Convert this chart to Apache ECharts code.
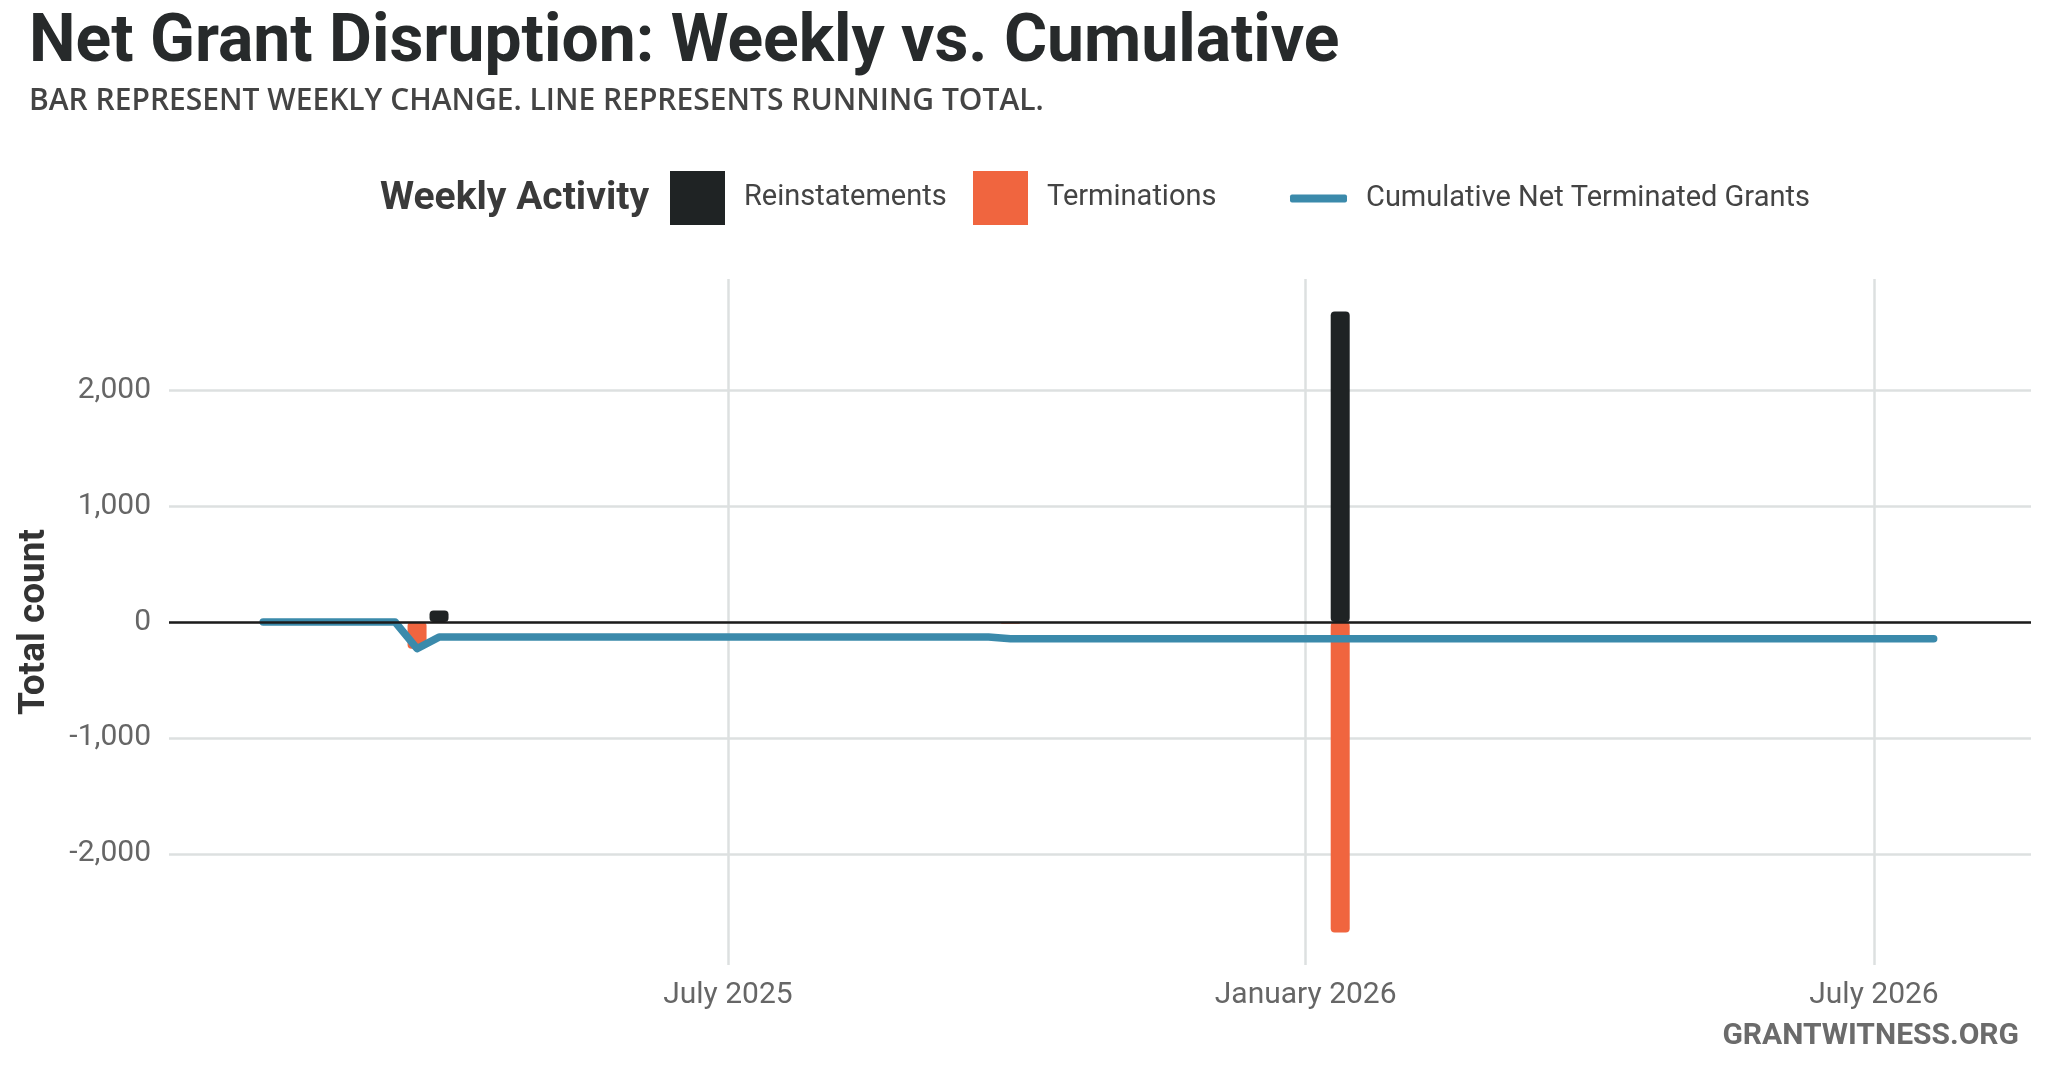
<!DOCTYPE html>
<html><head><meta charset="utf-8">
<script src="https://cdn.jsdelivr.net/npm/echarts@6/dist/echarts.min.js"></script>
<style>html,body{margin:0;padding:0;background:#fff}#c{width:2048px;height:1070px}</style>
</head><body><div id="c"></div>
<script>
// ---- data ----
const barWeeks = ['2025-03-24', '2025-03-31', '2025-09-29', '2026-01-12'];
const reinstatements = [null, 100, null, 2680];
const terminations = [-230, null, -15, -2680];
const lineWeeks = ['2025-02-03', '2025-03-17', '2025-03-24', '2025-03-31', '2025-09-22', '2025-09-29', '2026-07-20'];
const cumulativeNet = [0, 0, -230, -130, -130, -145, -145];
const xTickDates = ['2025-07-01', '2026-01-01', '2026-07-01'];
const yTicks = [-2000, -1000, 0, 1000, 2000];
const monthNames = ['January','February','March','April','May','June','July','August','September','October','November','December'];

const FONT = 'Roboto, "Noto Sans", sans-serif';
function t(s) { const p = s.split('-').map(Number); return new Date(p[0], p[1] - 1, p[2]).getTime(); }

const chart = echarts.init(document.getElementById('c'), null, { renderer: 'canvas' });
const legendTextBox = { fontSize: 29, color: '#444444', fontFamily: FONT, padding: [0, 0, 0, 14] };
const legendTextLine = { fontSize: 29, color: '#444444', fontFamily: FONT, padding: [0, 0, 0, 14] };

const option = {
  animation: false,
  backgroundColor: '#ffffff',
  grid: { left: 169, right: 17, top: 279, bottom: 105 },
  xAxis: {
    type: 'value',
    min: t('2025-01-04'),
    max: t('2026-08-20'),
    axisLine: { show: false },
    axisTick: { show: false, customValues: xTickDates.map(t) },
    axisLabel: {
      customValues: xTickDates.map(t),
      formatter: function (v) { const d = new Date(v); return monthNames[d.getMonth()] + ' ' + d.getFullYear(); },
      fontSize: 30, color: '#666666', fontFamily: FONT, margin: 15
    },
    splitLine: { show: true, lineStyle: { color: '#dde0e0', width: 2.5 } }
  },
  yAxis: {
    type: 'value',
    min: -2960,
    max: 2960,
    name: 'Total count',
    nameLocation: 'middle',
    nameGap: 116,
    nameRotate: 90,
    nameTextStyle: { fontSize: 37, fontWeight: 'bold', color: '#333333', fontFamily: FONT },
    axisLine: { show: false },
    axisTick: { show: false, customValues: yTicks },
    axisLabel: {
      customValues: yTicks,
      formatter: function (v) { return Number(v).toLocaleString('en-US'); },
      fontSize: 30, color: '#666666', fontFamily: FONT, margin: 18
    },
    splitLine: { show: true, lineStyle: { color: '#dde0e0', width: 2.5 } }
  },
  legend: [
    { data: [{ name: 'Reinstatements', icon: 'rect' }], left: 670, top: 171, itemWidth: 55, itemHeight: 54, padding: 0, selectedMode: false, textStyle: legendTextBox },
    { data: [{ name: 'Terminations', icon: 'rect' }], left: 973, top: 171, itemWidth: 55, itemHeight: 54, padding: 0, selectedMode: false, textStyle: legendTextBox },
    { data: [{ name: 'Cumulative Net Terminated Grants', icon: 'roundRect', itemStyle: { color: '#3b8aab' } }], left: 1290, top: 184, itemWidth: 57, itemHeight: 8, padding: 0, selectedMode: false, textStyle: legendTextLine }
  ],
  graphic: [
    { type: 'text', left: 29, top: 11, style: { text: 'Net Grant Disruption: Weekly vs. Cumulative', fontSize: 66, fontWeight: 'bold', fill: '#272a2b', fontFamily: FONT } },
    { type: 'text', left: 29, top: 86, style: { text: 'BAR REPRESENT WEEKLY CHANGE. LINE REPRESENTS RUNNING TOTAL.', fontSize: 30, fontWeight: 600, fill: '#444444', fontFamily: '"Open Sans", Roboto, sans-serif' } },
    { type: 'text', left: 380, top: 180, style: { text: 'Weekly Activity', fontSize: 39, fontWeight: 'bold', fill: '#3a3a3a', fontFamily: FONT } },
    { type: 'text', right: 29, top: 1021, style: { text: 'GRANTWITNESS.ORG', fontSize: 30, fontWeight: 'bold', fill: '#6b6b6b', fontFamily: FONT } }
  ],
  series: [
    {
      name: 'Reinstatements', type: 'bar', barWidth: 19, barGap: '-100%',
      itemStyle: { color: '#1f2324', borderRadius: 4 },
      data: barWeeks.map((d, i) => [t(d), reinstatements[i]])
    },
    {
      name: 'Terminations', type: 'bar', barWidth: 19, barGap: '-100%',
      itemStyle: { color: '#f0653f', borderRadius: 4 },
      data: barWeeks.map((d, i) => [t(d), terminations[i]])
    },
    {
      name: 'Cumulative Net Terminated Grants', type: 'line', z: 3,
      showSymbol: false, symbol: 'none',
      itemStyle: { color: '#3b8aab' },
      lineStyle: { color: '#3b8aab', width: 7.5, cap: 'round', join: 'round' },
      data: lineWeeks.map((d, i) => [t(d), cumulativeNet[i]]),
      markLine: {
        silent: true, symbol: ['none', 'none'], label: { show: false },
        lineStyle: { color: '#1c1c1c', width: 2.6, type: 'solid' },
        emphasis: { disabled: true },
        data: [{ yAxis: 0 }]
      }
    }
  ]
};
chart.setOption(option);
</script></body></html>
